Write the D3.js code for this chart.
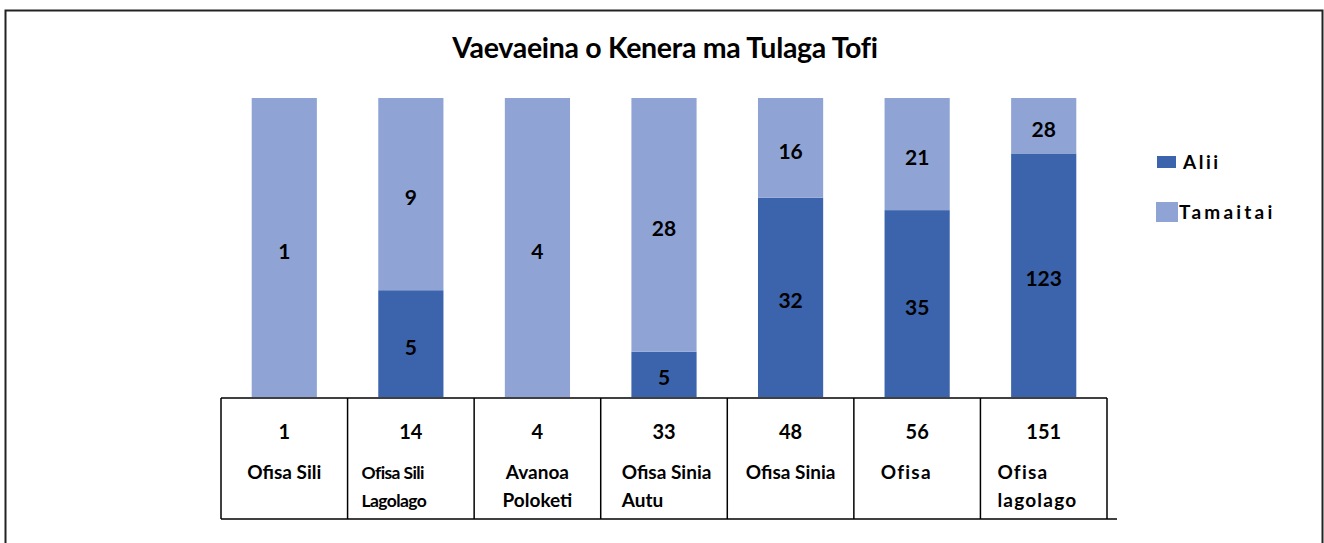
<!DOCTYPE html>
<html>
<head>
<meta charset="utf-8">
<script src="https://cdn.jsdelivr.net/npm/d3@7"></script>
<style>
  body { margin: 0; background: #fff; }
  svg { display: block; font-family: "Lato", "Open Sans", sans-serif; }
</style>
</head>
<body>
<div id="chart-area"></div>
<script>
// chart data
var categories = ["Ofisa Sili", "Ofisa Sili Lagolago", "Avanoa Poloketi", "Ofisa Sinia Autu",
                  "Ofisa Sinia", "Ofisa", "Ofisa lagolago"];
var labelLines = [["Ofisa Sili"], ["Ofisa Sili", "Lagolago"], ["Avanoa", "Poloketi"],
                  ["Ofisa Sinia", "Autu"], ["Ofisa Sinia"], ["Ofisa"], ["Ofisa", "lagolago"]];
var alii = [0, 5, 0, 5, 32, 35, 123];
var tamaitai = [1, 9, 4, 28, 16, 21, 28];
var totals = [1, 14, 4, 33, 48, 56, 151];
var seriesNames = ["Alii", "Tamaitai"];
var title = "Vaevaeina o Kenera ma Tulaga Tofi";

// styling / layout
var colors = {Alii: "#3b64ad", Tamaitai: "#8fa4d5"};
// label alignment inside table cell: null = centered, number = left offset from cell edge
var labelOffset = [null, 14, null, 21, null, 27, 17];
var labelSize = [19, 17.5, 19, 19, 19, 19, 19];
var labelSpacing = [0, -0.6, 0, 0, 0, 1.2, 1.2];

var W = 1324, H = 543;
var plot = {left: 221, right: 1107, top: 98, bottom: 397};

var svg = d3.select("#chart-area").append("svg")
    .attr("width", W)
    .attr("height", H);

// outer frame
svg.append("rect")
    .attr("x", 5.5).attr("y", 10.5)
    .attr("width", 1317).attr("height", 600)
    .attr("fill", "none")
    .attr("stroke", "#222")
    .attr("stroke-width", 2);

svg.append("text")
    .attr("x", 665).attr("y", 58)
    .attr("text-anchor", "middle")
    .attr("font-size", 28.5)
    .attr("font-weight", "bold")
    .attr("letter-spacing", -0.3)
    .attr("fill", "#000")
    .text(title);

var data = categories.map(function (c, i) {
    return {cat: c, Alii: alii[i], Tamaitai: tamaitai[i]};
});

var stack = d3.stack().keys(seriesNames).offset(d3.stackOffsetExpand);
var series = stack(data);

var xScale = d3.scaleBand()
    .domain(categories)
    .range([plot.left, plot.right])
    .paddingInner(0.485)
    .paddingOuter(0.2425);

var colScale = d3.scaleBand()
    .domain(categories)
    .range([plot.left, plot.right]);

var yScale = d3.scaleLinear()
    .domain([0, 1])
    .range([plot.bottom, plot.top]);

var groups = svg.selectAll("g.series")
    .data(series)
    .enter().append("g")
    .attr("class", "series")
    .attr("fill", function (d) { return colors[d.key]; });

groups.selectAll("rect")
    .data(function (d) { return d; })
    .enter().append("rect")
    .attr("x", function (d) { return xScale(d.data.cat); })
    .attr("width", xScale.bandwidth())
    .attr("y", function (d) { return yScale(d[1]); })
    .attr("height", function (d) { return yScale(d[0]) - yScale(d[1]); });

// value labels
series.forEach(function (s) {
    svg.append("g").selectAll("text")
        .data(s.filter(function (d) { return d.data[s.key] > 0; }))
        .enter().append("text")
        .attr("x", function (d) { return xScale(d.data.cat) + xScale.bandwidth() / 2; })
        .attr("y", function (d) { return (yScale(d[0]) + yScale(d[1])) / 2 + 11; })
        .attr("text-anchor", "middle")
        .attr("font-size", 21)
        .attr("font-weight", "bold")
        .attr("fill", "#000")
        .text(function (d) { return d.data[s.key]; });
});

// data table under the bars
var tableTop = 398, tableBottom = 519;
var table = svg.append("g").attr("stroke", "#000").attr("stroke-width", 1.5);
table.append("line")
    .attr("x1", plot.left).attr("x2", plot.right)
    .attr("y1", tableTop).attr("y2", tableTop);
table.append("line")
    .attr("x1", plot.left).attr("x2", 1117)
    .attr("y1", tableBottom).attr("y2", tableBottom);
table.selectAll("line.v")
    .data(categories.concat(["end"]))
    .enter().append("line")
    .attr("class", "v")
    .attr("x1", function (d, i) { return plot.left + i * colScale.step(); })
    .attr("x2", function (d, i) { return plot.left + i * colScale.step(); })
    .attr("y1", tableTop).attr("y2", tableBottom);

svg.append("g").selectAll("text")
    .data(categories)
    .enter().append("text")
    .attr("x", function (d) { return xScale(d) + xScale.bandwidth() / 2; })
    .attr("y", 439)
    .attr("text-anchor", "middle")
    .attr("font-size", 20)
    .attr("font-weight", "bold")
    .text(function (d, i) { return totals[i]; });

categories.forEach(function (c, i) {
    var centered = labelOffset[i] === null;
    var t = svg.append("text")
        .attr("font-size", labelSize[i])
        .attr("font-weight", "bold")
        .attr("letter-spacing", labelSpacing[i])
        .attr("text-anchor", centered ? "middle" : "start");
    var x = centered ? xScale(c) + xScale.bandwidth() / 2 : colScale(c) + labelOffset[i];
    labelLines[i].forEach(function (line, j) {
        t.append("tspan")
            .attr("x", x)
            .attr("y", 479 + j * 28)
            .text(line);
    });
});

// legend
var legend = svg.append("g");
legend.append("rect").attr("x", 1157).attr("y", 156).attr("width", 19).attr("height", 12)
    .attr("fill", colors.Alii);
legend.append("text").attr("x", 1183).attr("y", 169)
    .attr("font-size", 19).attr("font-weight", "bold").attr("letter-spacing", 2.5)
    .text(seriesNames[0]);
legend.append("rect").attr("x", 1156).attr("y", 202).attr("width", 22).attr("height", 20)
    .attr("fill", colors.Tamaitai);
legend.append("text").attr("x", 1179).attr("y", 219)
    .attr("font-size", 19).attr("font-weight", "bold").attr("letter-spacing", 3.2)
    .text(seriesNames[1]);
</script>
</body>
</html>
